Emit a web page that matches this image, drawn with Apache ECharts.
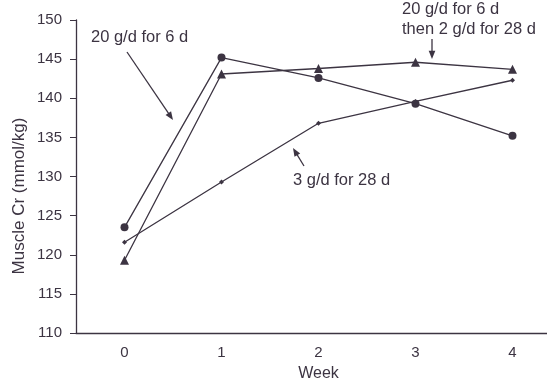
<!DOCTYPE html>
<html><head><meta charset="utf-8">
<script src="https://cdn.jsdelivr.net/npm/echarts@6/dist/echarts.min.js"></script>
<style>html,body{margin:0;padding:0;background:#fff}#c{width:547px;height:382px}</style>
</head><body><div id="c"></div>
<script>
var weeks = ['0','1','2','3','4'];
var loadSeries = [123.5, 145.2, 142.6, 139.3, 135.2];      // 20 g/d for 6 d (circles)
var loadMaintSeries = [119.3, 143.1, 143.8, 144.6, 143.7]; // 20 g/d then 2 g/d (triangles)
var lowSeries = [121.6, 129.3, 136.8, 139.6, 142.3];       // 3 g/d for 28 d (diamonds)
var yTicks = {min:110, max:150, step:5};

var ink = '#3c3442';
var font = 'Liberation Sans, Arial, sans-serif';
var chart = echarts.init(document.getElementById('c'));
function ser(name, data, symbol, size){
  return {name:name, type:'line', data:data, symbol:symbol, symbolSize:size,
    lineStyle:{color:ink, width:1.3}, itemStyle:{color:ink}, animation:false};
}
function arrow(x1,y1,x2,y2){
  var a = Math.atan2(y2-y1, x2-x1), L=9, w=0.38;
  return [
    {type:'line', shape:{x1:x1,y1:y1,x2:x2-Math.cos(a)*4,y2:y2-Math.sin(a)*4}, style:{stroke:ink, lineWidth:1.3}},
    {type:'polygon', shape:{points:[[x2,y2],[x2-L*Math.cos(a-w),y2-L*Math.sin(a-w)],[x2-L*Math.cos(a+w),y2-L*Math.sin(a+w)]]}, style:{fill:ink}}
  ];
}
function t(text, x, y, size, extra){
  return Object.assign({type:'text', x:x, y:y,
    style:{text:text, fill:ink, font:size+'px "Liberation Sans", Arial, sans-serif', align:'left', verticalAlign:'middle'}}, extra||{});
}
var yName = t('Muscle Cr (mmol/kg)', 19, 196, 17, {rotation:Math.PI/2});
yName.style.align = 'center';
chart.setOption({
  animation:false,
  grid:{left:76, top:20, bottom:49, right:-14, outerBoundsMode:'none', containLabel:false},
  xAxis:{type:'category', data:weeks, boundaryGap:true, name:'Week', nameLocation:'middle', nameGap:33,
    nameTextStyle:{color:ink, fontSize:16, fontFamily:font},
    axisLine:{lineStyle:{color:ink, width:1.3}}, axisTick:{length:5, lineStyle:{color:ink}},
    axisLabel:{color:ink, fontSize:15, fontFamily:font, margin:12}},
  yAxis:{type:'value', min:yTicks.min, max:yTicks.max, interval:yTicks.step,
    axisLine:{show:true, lineStyle:{color:ink, width:1.3}}, axisTick:{show:true, length:6, lineStyle:{color:ink}},
    splitLine:{show:false},
    axisLabel:{color:ink, fontSize:15, fontFamily:font, margin:14}},
  series:[ser('load', loadSeries, 'circle', 8), ser('loadMaint', loadMaintSeries, 'triangle', 9), ser('low', lowSeries, 'diamond', 5)],
  graphic:[
    yName,
    t('20 g/d for 6 d', 91, 37, 16.5),
    t('20 g/d for 6 d', 402, 9, 16.5),
    t('then 2 g/d for 28 d', 402, 29, 16.5),
    t('3 g/d for 28 d', 293, 180, 16.5)
  ].concat(arrow(127,52,173,120), arrow(432,39,432,59), arrow(304,166,293,148))
});
</script></body></html>
